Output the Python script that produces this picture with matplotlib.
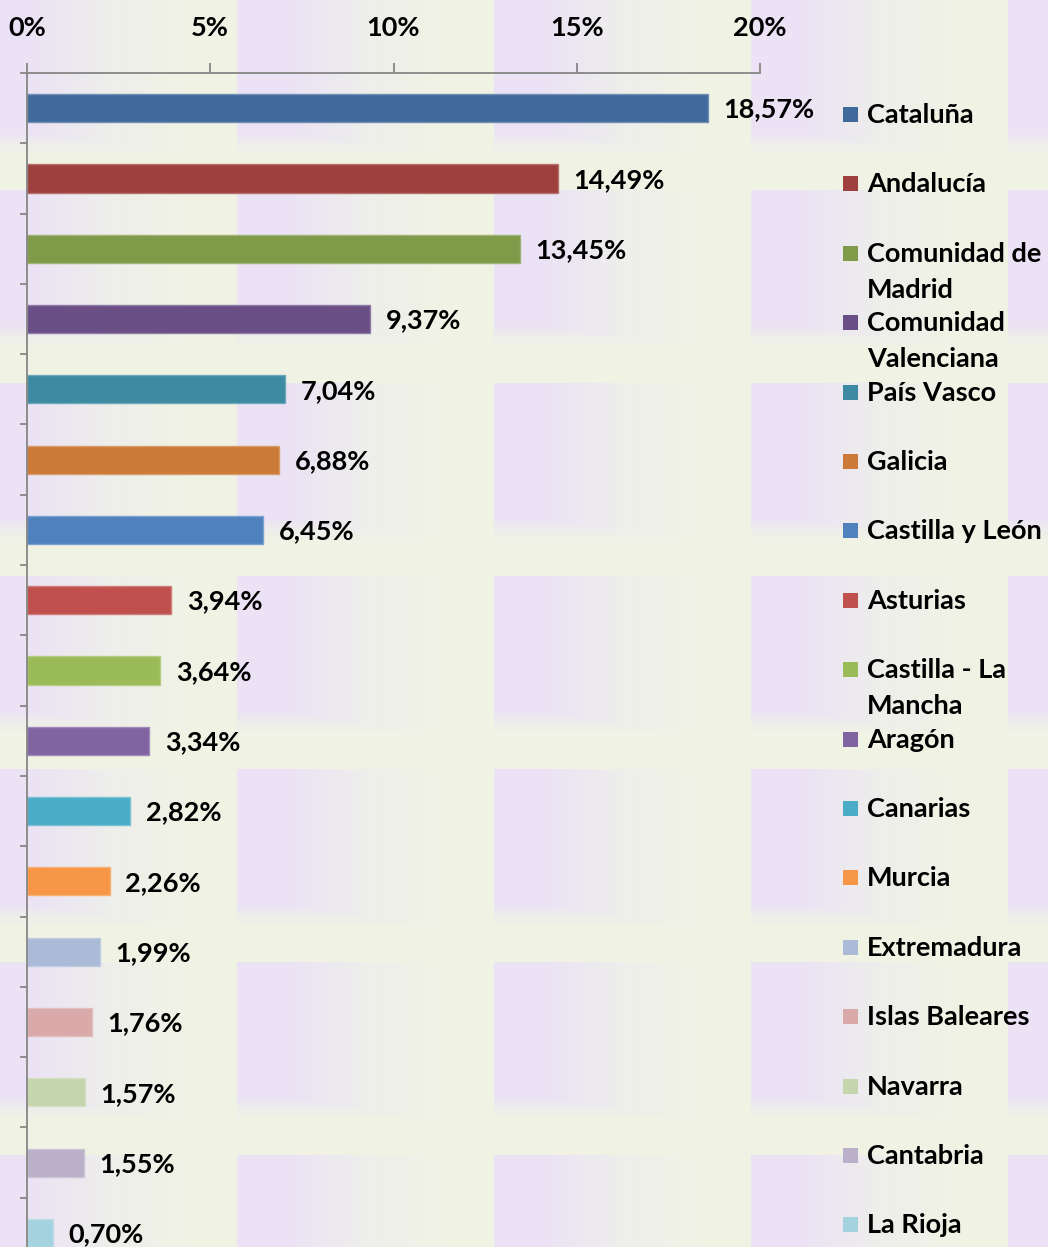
import numpy as np
import matplotlib
matplotlib.use('Agg')
from matplotlib import pyplot as plt
from matplotlib.patches import Rectangle
from matplotlib.colors import to_rgb

# datos: peso de cada comunidad autonoma (%)
regiones = ['Cataluña', 'Andalucía', 'Comunidad de\nMadrid', 'Comunidad\nValenciana',
            'País Vasco', 'Galicia', 'Castilla y León', 'Asturias',
            'Castilla - La\nMancha', 'Aragón', 'Canarias', 'Murcia', 'Extremadura',
            'Islas Baleares', 'Navarra', 'Cantabria', 'La Rioja']
valores = [18.57, 14.49, 13.45, 9.37, 7.04, 6.88, 6.45, 3.94, 3.64, 3.34,
           2.82, 2.26, 1.99, 1.76, 1.57, 1.55, 0.70]
colores = ['#416A9C', '#9E413E', '#7F9A48', '#6A4F86', '#3D8BA2', '#CC7A38',
           '#4F81BD', '#C0504D', '#9BBB59', '#8064A2', '#4BACC6', '#F79646',
           '#AABAD7', '#D9AAA9', '#C6D6AC', '#BAB0C9', '#A5D2DF']
ticks_x = [0, 5, 10, 15, 20]

W, H = 1048, 1247
plt.rcParams['font.family'] = ['Lato', 'DejaVu Sans']
plt.rcParams['font.weight'] = 'bold'
fs = 19.5

fig = plt.figure(figsize=(W / 100, H / 100), dpi=100)

# fondo con textura de baldosas (lila -> verde)
yy, xx = np.mgrid[0:H, 0:W]
fx = ((xx + 20) % 257) / 257.0
fy = ((yy + 3) % 193) / 193.0
sy = np.clip((fy - 0.70) / 0.12, 0, 1)
t = np.maximum(np.clip((fx - 0.2) / 0.6, 0, 1), sy)
lila = np.array([235, 227, 245]) / 255
gris = np.array([238, 238, 235]) / 255
verde = np.array([240, 243, 228]) / 255
t3 = t[..., None]
img = np.where(t3 < 0.5, lila + (gris - lila) * (t3 * 2), gris + (verde - gris) * ((t3 - 0.5) * 2))
bg = fig.add_axes([0, 0, 1, 1], zorder=-1)
bg.imshow(img, aspect='auto', extent=[0, W, H, 0])
bg.axis('off')

def px(x, y):
    return x / W, 1 - y / H

left, top, right, bottom = 27, 73, 760, 1268
ax = fig.add_axes([left / W, 1 - bottom / H, (right - left) / W, (bottom - top) / H])
ax.set_facecolor('none')

n = len(valores)
pos = np.arange(n)
bordes = [tuple(min(1, c * 0.75 + 0.25) for c in to_rgb(col)) for col in colores]
ax.barh(pos, valores, height=0.4, color=colores, edgecolor=bordes, linewidth=1)
for i, v in enumerate(valores):
    ax.annotate(f'{v:.2f}%'.replace('.', ','), (v, i), xytext=(11, -1),
                textcoords='offset points', va='center', ha='left', fontsize=fs,
                fontweight='bold', color='black')

ax.set_xlim(0, 20)
ax.set_ylim(n - 0.5, -0.5)
ax.xaxis.tick_top()
ax.set_xticks(ticks_x)
ax.set_xticklabels([f'{v}%' for v in ticks_x], fontsize=fs, fontweight='bold')
ax.tick_params(axis='x', direction='out', length=7, width=1.3, color='#868686', pad=17)
ax.set_yticks(np.arange(n + 1) - 0.5)
ax.set_yticklabels([])
ax.tick_params(axis='y', direction='out', length=5, width=1.3, color='#868686')
for s in ['right', 'bottom']:
    ax.spines[s].set_visible(False)
for s in ['top', 'left']:
    ax.spines[s].set_color('#868686')
    ax.spines[s].set_linewidth(1.3)

# leyenda manual
for i, (r, c) in enumerate(zip(regiones, colores)):
    yc = 115 + i * 69.4
    x0, y0 = px(843, yc + 7)
    fig.add_artist(Rectangle((x0, y0), 15 / W, 15 / H, transform=fig.transFigure,
                             facecolor=c, edgecolor='none'))
    tx, ty = px(867, yc - 12)
    fig.text(tx, ty, r, fontsize=fs, fontweight='bold', va='top', ha='left',
             linespacing=1.6)

fig.savefig('out.png', dpi=100)
